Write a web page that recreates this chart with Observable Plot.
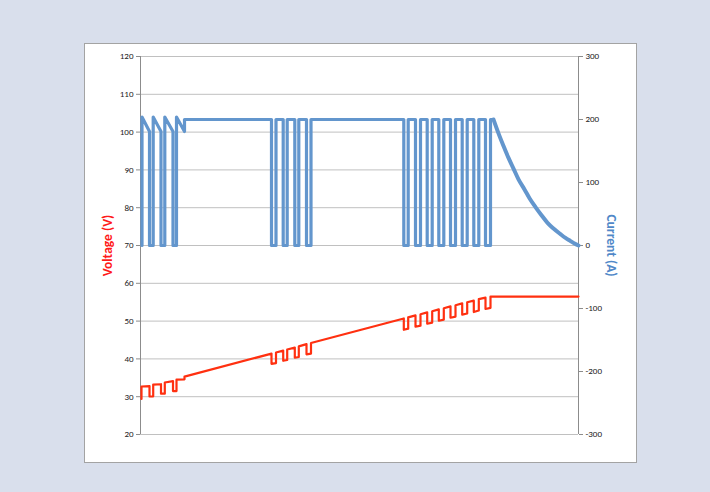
<!DOCTYPE html>
<html>
<head>
<meta charset="utf-8">
<script src="https://cdn.jsdelivr.net/npm/d3@7"></script>
<script src="https://cdn.jsdelivr.net/npm/@observablehq/plot@0.6"></script>
<style>
  html, body { margin: 0; padding: 0; }
  body { width: 710px; height: 492px; background: #d9dfec; position: relative; overflow: hidden; }
  #chart { position: absolute; left: 85px; top: 44px; width: 551px; height: 418px; background: #fff; outline: 1px solid #a3a3a3; }
  #chart svg { display: block; }
</style>
</head>
<body>
<div id="chart"></div>
<script>
// Left axis (voltage) ticks and right axis (current) ticks
const voltTicks = [20, 30, 40, 50, 60, 70, 80, 90, 100, 110, 120];
const currentTicks = [-300, -200, -100, 0, 100, 200, 300];

// Current series, pulsed part (time units, amperes)
const currentT = [1.5,1.5,9,9,12.7,12.7,20.5,20.5,24.3,24.3,32.5,32.5,36,36,44,44,
  131,131,135.5,135.5,142.7,142.7,146.7,146.7,154.3,154.3,158.3,158.3,166,166,170.5,170.5,
  263.3,263.3,267.7,267.7,275,275,280,280,286.7,286.7,291.7,291.7,298.3,298.3,303.3,303.3,
  310,310,315,315,321.7,321.7,326.7,326.7,333.3,333.3,338.3,338.3,345,345,350,350,353];
const currentA = [0,204,181,0,0,204,181,0,0,204,181,0,0,204,181,200,
  200,0,0,200,200,0,0,200,200,0,0,200,200,0,0,200,
  200,0,0,200,200,0,0,200,200,0,0,200,200,0,0,200,
  200,0,0,200,200,0,0,200,200,0,0,200,200,0,0,200,200];

// Current series, taper part
const taperT = [353,358,363,368,373,378,384,389,395,401,407,413,420,425,430,434,438];
const taperA = [200,178,158,139,122,105,89,75,61,48,36,27,18,12,7,3,0];

// Voltage series (time units, volts)
const voltT = [1,1,9,9,12.7,12.7,20.5,20.5,24.3,24.3,32.5,32.5,36,36,44,44,
  131,131,135.5,135.5,142.7,142.7,146.7,146.7,154.3,154.3,158.3,158.3,166,166,170.5,170.5,
  263.3,263.3,267.7,267.7,275,275,280,280,286.7,286.7,291.7,291.7,298.3,298.3,303.3,303.3,
  310,310,315,315,321.7,321.7,326.7,326.7,333.3,333.3,338.3,338.3,345,345,350,350,
  438];
const voltV = [29.4,32.7,32.8,30.05,30.1,33.2,33.3,30.8,30.8,33.75,34.1,31.5,31.5,34.5,34.6,35.3,
  41.4,38.7,38.9,41.7,42.2,39.5,39.7,42.5,43.0,40.3,40.5,43.3,43.9,41.2,41.4,44.2,
  50.7,47.7,48.0,51.0,51.5,48.5,48.8,51.8,52.3,49.3,49.6,52.6,53.1,50.1,50.4,53.4,
  53.9,50.9,51.2,54.2,54.7,51.7,52.0,55.0,55.4,52.4,52.8,55.8,56.2,53.2,53.5,56.5,
  56.5];

const currentRows = currentT.map((t, i) => ({t, I: currentA[i]}));
const taperRows = taperT.map((t, i) => ({t, I: taperA[i]}));
const voltRows = voltT.map((t, i) => ({t, V: voltV[i]}));

// secondary axis: current 0 A sits at 70 V, 300 A at 120 V
const toV = I => 70 + I / 6;

const font = "Carlito, Calibri, Lato, 'Liberation Sans', sans-serif";
const blue = "#6396cd";

const chart = Plot.plot({
  width: 551,
  height: 418,
  marginLeft: 55,
  marginRight: 58,
  marginTop: 12,
  marginBottom: 28,
  x: {domain: [0, 438], axis: null},
  y: {domain: [20, 120], axis: null},
  style: {fontFamily: font, fontSize: "9px", background: "white", color: "#222"},
  marks: [
    Plot.ruleY(voltTicks, {stroke: "#c0c0c0", strokeWidth: 1}),
    Plot.ruleX([0, 438], {stroke: "#8c8c8c", strokeWidth: 1}),
    Plot.axisY(voltTicks, {anchor: "left", tickSize: 4, tickPadding: 3, stroke: "#8c8c8c", fill: "#222", label: null, tickFormat: d => String(d)}),
    Plot.axisY(currentTicks, {y: toV, anchor: "right", tickSize: 4, tickPadding: 3, stroke: "#8c8c8c", fill: "#222", label: null, tickFormat: d => String(d)}),
    Plot.line(currentRows, {x: "t", y: d => toV(d.I), stroke: blue, strokeWidth: 3.2}),
    Plot.line(taperRows, {x: "t", y: d => toV(d.I), stroke: blue, strokeWidth: 4, curve: "monotone-x"}),
    Plot.line(voltRows, {x: "t", y: "V", stroke: "#ff3010", strokeWidth: 2.2}),
    Plot.text(["Voltage (V)"], {frameAnchor: "left", dx: -33, rotate: -90, textAnchor: "middle", text: d => d, fill: "#ff1a1a", fontWeight: "bold", fontSize: 13.5}),
    Plot.text(["Current (A)"], {frameAnchor: "right", dx: 33, rotate: 90, textAnchor: "middle", text: d => d, fill: "#5088c8", fontWeight: "bold", fontSize: 13.5})
  ]
});
document.getElementById("chart").appendChild(chart);
</script>
</body>
</html>
